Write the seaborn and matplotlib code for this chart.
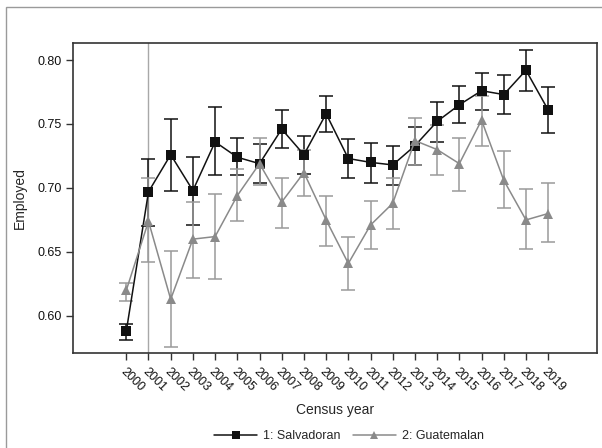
import numpy as np
import pandas as pd
import matplotlib
matplotlib.use("Agg")
import matplotlib.pyplot as plt
import seaborn as sns
from matplotlib.lines import Line2D
from matplotlib.patches import Rectangle

years = list(range(2000, 2020))
salv = [0.588, 0.697, 0.726, 0.698, 0.736, 0.724, 0.719, 0.746, 0.726, 0.758,
        0.723, 0.720, 0.718, 0.733, 0.752, 0.765, 0.776, 0.773, 0.792, 0.761]
salv_lo = [0.581, 0.670, 0.698, 0.671, 0.710, 0.710, 0.704, 0.731, 0.711, 0.744,
           0.708, 0.704, 0.702, 0.718, 0.736, 0.751, 0.761, 0.758, 0.776, 0.743]
salv_hi = [0.594, 0.723, 0.754, 0.724, 0.763, 0.739, 0.734, 0.761, 0.741, 0.772,
           0.738, 0.735, 0.733, 0.748, 0.767, 0.780, 0.790, 0.788, 0.808, 0.779]
guat = [0.620, 0.674, 0.613, 0.660, 0.662, 0.694, 0.719, 0.689, 0.712, 0.675,
        0.641, 0.671, 0.688, 0.737, 0.730, 0.719, 0.753, 0.706, 0.675, 0.680]
guat_lo = [0.612, 0.642, 0.576, 0.630, 0.629, 0.674, 0.702, 0.669, 0.694, 0.655,
           0.620, 0.652, 0.668, 0.718, 0.710, 0.698, 0.733, 0.684, 0.652, 0.658]
guat_hi = [0.626, 0.708, 0.651, 0.689, 0.695, 0.715, 0.739, 0.708, 0.730, 0.694,
           0.662, 0.690, 0.708, 0.755, 0.749, 0.739, 0.772, 0.729, 0.699, 0.704]
series_names = ["1: Salvadoran", "2: Guatemalan"]
xtick_labels = [str(y) for y in years]

sns.set_style("white")
plt.rcParams['font.family'] = ['Liberation Sans', 'DejaVu Sans']

df = pd.DataFrame({
    "year": years * 2,
    "value": salv + guat,
    "group": [series_names[0]] * 20 + [series_names[1]] * 20,
})

BLACK = "#111111"
GRAY = "#8a8a8a"
GRAY_ERR = "#9a9a9a"

fig = plt.figure(figsize=(6.02, 4.48), dpi=100)
fig.patches.append(Rectangle((6 / 602, -0.2), 1.2, 1 - 7 / 448 + 0.2,
                             transform=fig.transFigure, fill=False,
                             edgecolor="#9a9a9a", linewidth=1.0))
ax = fig.add_axes([73 / 602, 1 - 353 / 448, (597 - 73) / 602, (353 - 43) / 448])

ax.axvline(2001, color="#a8a8a8", linewidth=1.0, zorder=1)

# error bars
s = np.array(salv); g = np.array(guat)
ax.errorbar(years, s, yerr=[s - np.array(salv_lo), np.array(salv_hi) - s],
            fmt="none", ecolor=BLACK, elinewidth=1.1, capsize=5, capthick=1.1, zorder=2)
ax.errorbar(years, g, yerr=[g - np.array(guat_lo), np.array(guat_hi) - g],
            fmt="none", ecolor=GRAY_ERR, elinewidth=1.1, capsize=5, capthick=1.1, zorder=2)

sns.lineplot(data=df, x="year", y="value", hue="group", style="group",
             markers={series_names[0]: "s", series_names[1]: "^"}, dashes=False,
             palette={series_names[0]: BLACK, series_names[1]: GRAY},
             markersize=7, markeredgewidth=0, linewidth=1.1, legend=False,
             ax=ax, zorder=3)

ax.set_xlim(1997.6, 2021.2)
ax.set_ylim(0.571, 0.8133)
ax.set_yticks([0.60, 0.65, 0.70, 0.75, 0.80])
ax.set_yticklabels(["0.60", "0.65", "0.70", "0.75", "0.80"], fontsize=9)
ax.set_xticks(years)
ax.set_xticklabels(xtick_labels, fontsize=9, rotation=-45, ha="left",
                   rotation_mode="anchor")
for lab in ax.get_xticklabels():
    lab.set_va("top")
ax.tick_params(axis="both", direction="out", length=5, width=1, color="#333333",
               labelcolor="#111111", left=True, bottom=True)
ax.tick_params(axis="x", pad=4)
ax.tick_params(axis="y", pad=3)
for sp in ax.spines.values():
    sp.set_color("#333333")
    sp.set_linewidth(1.2)

ax.set_xlabel("Census year", fontsize=10)
ax.set_ylabel("Employed", fontsize=10, labelpad=8)
ax.xaxis.label.set_va("center")
ax.xaxis.set_label_coords(0.5, (353 - 410) / 310)

handles = [Line2D([], [], color=BLACK, marker="s", markersize=6, markeredgewidth=0, linewidth=1.1),
           Line2D([], [], color=GRAY, marker="^", markersize=6, markeredgewidth=0, linewidth=1.1)]
fig.legend(handles, series_names, loc="center", bbox_to_anchor=(349 / 602, 1 - 436 / 448),
           ncol=2, frameon=False, fontsize=9, handlelength=3.4, columnspacing=1.0,
           handletextpad=0.5)

fig.savefig("out.png", dpi=100)
